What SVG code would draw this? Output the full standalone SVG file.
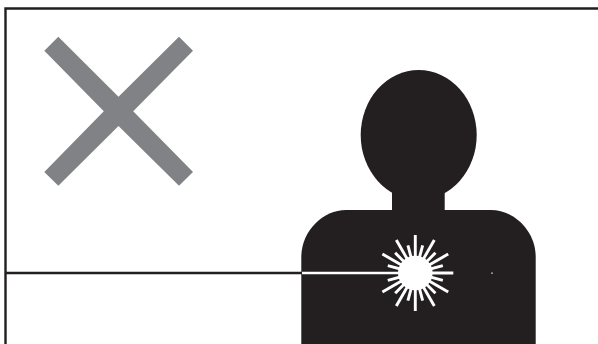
<svg xmlns="http://www.w3.org/2000/svg" width="598" height="344" viewBox="0 0 598 344">
  <defs>
    <style>
      .frame { fill: none; stroke: #231f20; stroke-width: 2.4; }
      .long { stroke: #fff; stroke-width: 2.9; }
      .short { stroke: #fff; stroke-width: 2.9; }
    </style>
    <line id="longRay" class="long" x1="415.3" y1="273" x2="415.3" y2="235"/>
    <line id="shortRay" class="short" x1="415.3" y1="273" x2="415.3" y2="244.5"/>
  </defs>
  <rect width="598" height="344" fill="#fff"/>
  <g id="frame">
    <path class="frame" d="M598 8.5H5.5V344"/>
  </g>
  <g id="cross">
    <polygon fill="#808285" points="58.3,36.7 118.5,96.7 179,36.7 193,50.7 133.2,111.2 193,172 179,185.7 118.5,126 58.3,185.7 44.3,172 103.8,111.2 44.3,50.7"/>
  </g>
  <g id="connectors">
    <line x1="5" y1="273" x2="302" y2="273" stroke="#231f20" stroke-width="2.4"/>
  </g>
  <g id="figure">
    <ellipse cx="418.7" cy="135" rx="58" ry="65" fill="#231f20"/>
    <rect x="392" y="185" width="52.7" height="30" fill="#231f20"/>
    <path fill="#231f20" d="M301.3 344V257C301.3 231 323 210 346 210H491C514 210 535.7 231 535.7 257V344Z"/>
  </g>
  <g id="burst">
    <line x1="302" y1="273" x2="415" y2="273" stroke="#fff" stroke-width="2.4"/>
    <use href="#longRay"/>
    <use href="#longRay" transform="rotate(30 415.3 273)"/>
    <use href="#longRay" transform="rotate(60 415.3 273)"/>
    <use href="#longRay" transform="rotate(90 415.3 273)"/>
    <use href="#longRay" transform="rotate(120 415.3 273)"/>
    <use href="#longRay" transform="rotate(150 415.3 273)"/>
    <use href="#longRay" transform="rotate(180 415.3 273)"/>
    <use href="#longRay" transform="rotate(210 415.3 273)"/>
    <use href="#longRay" transform="rotate(240 415.3 273)"/>
    <use href="#longRay" transform="rotate(300 415.3 273)"/>
    <use href="#longRay" transform="rotate(330 415.3 273)"/>
    <use href="#shortRay" transform="rotate(15 415.3 273)"/>
    <use href="#shortRay" transform="rotate(45 415.3 273)"/>
    <use href="#shortRay" transform="rotate(75 415.3 273)"/>
    <use href="#shortRay" transform="rotate(105 415.3 273)"/>
    <use href="#shortRay" transform="rotate(135 415.3 273)"/>
    <use href="#shortRay" transform="rotate(165 415.3 273)"/>
    <use href="#shortRay" transform="rotate(195 415.3 273)"/>
    <use href="#shortRay" transform="rotate(225 415.3 273)"/>
    <use href="#shortRay" transform="rotate(255 415.3 273)"/>
    <use href="#shortRay" transform="rotate(285 415.3 273)"/>
    <use href="#shortRay" transform="rotate(315 415.3 273)"/>
    <use href="#shortRay" transform="rotate(345 415.3 273)"/>
    <circle cx="415.3" cy="273" r="17.3" fill="#fff"/>
    <rect x="491" y="272.6" width="2" height="1" fill="#fff" opacity="0.8"/>
  </g>
</svg>
